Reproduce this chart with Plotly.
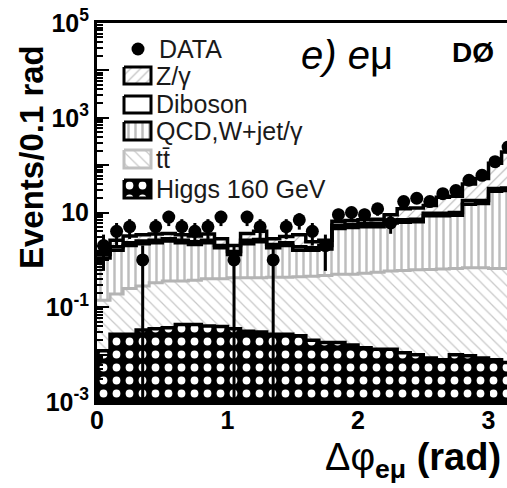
import numpy as np
import plotly.graph_objects as go

# ---------------- data ----------------
bin_edges = [0.0, 0.1, 0.2, 0.3, 0.4, 0.5, 0.6, 0.7, 0.8, 0.9, 1.0, 1.1, 1.2, 1.3, 1.4, 1.5,
             1.6, 1.7, 1.8, 1.9, 2.0, 2.1, 2.2, 2.3, 2.4, 2.5, 2.6, 2.7, 2.8, 2.9, 3.0, 3.1, 3.2]
bin_centers = [0.05, 0.15, 0.25, 0.35, 0.45, 0.55, 0.65, 0.75, 0.85, 0.95, 1.05, 1.15, 1.25, 1.35,
               1.45, 1.55, 1.65, 1.75, 1.85, 1.95, 2.05, 2.15, 2.25, 2.35, 2.45, 2.55, 2.65, 2.75,
               2.85, 2.95, 3.05, 3.15]

data_events = [2, 4, 5, 1, 5, 8, 5, 4, 5, 8, 1, 8, 5, 1, 5, 7, 4, 2, 9, 10, 9, 12, 6, 17,
               20, 17, 25, 29, 48, 61, 118, 240]

ttbar = [0.14, 0.19, 0.25, 0.28, 0.33, 0.36, 0.36, 0.37, 0.40, 0.40, 0.42, 0.42, 0.42, 0.43,
         0.43, 0.44, 0.45, 0.47, 0.50, 0.50, 0.52, 0.55, 0.58, 0.60, 0.62, 0.63, 0.64, 0.66,
         0.68, 0.68, 0.66, 0.66]
qcd_wjet = [0.96, 1.41, 1.75, 1.92, 1.97, 2.14, 1.94, 1.73, 1.90, 1.40, 0.88, 1.78, 1.98, 1.37,
            1.57, 1.16, 1.15, 1.23, 4.10, 4.30, 4.48, 4.45, 5.42, 5.60, 5.78, 7.87, 7.86, 8.14,
            14.3, 14.8, 27.3, 28.3]
diboson = [0.2, 0.3, 0.3, 0.3, 0.3, 0.3, 0.3, 0.3, 0.3, 0.2, 0.2, 0.4, 0.3, 0.3, 0.3, 0.3,
           0.2, 0.3, 0.8, 0.8, 0.8, 0.9, 0.9, 0.8, 0.8, 1.2, 1.2, 1.2, 3.0, 2.5, 4.0, 4.0]
zgamma = [0.2, 0.7, 0.9, 0.9, 0.9, 0.8, 0.8, 0.8, 0.9, 0.8, 0.5, 1.0, 1.3, 0.7, 0.8, 1.5,
          0.6, 0.6, 1.1, 1.2, 1.2, 1.3, 2.1, 5.0, 5.3, 4.3, 11.3, 12.0, 22.0, 34.0, 78.0, 157.0]
higgs160 = [0.012, 0.027, 0.027, 0.033, 0.035, 0.037, 0.043, 0.043, 0.040, 0.039, 0.035, 0.031,
            0.030, 0.027, 0.027, 0.025, 0.020, 0.018, 0.018, 0.016, 0.014, 0.013, 0.013, 0.011,
            0.010, 0.0085, 0.0078, 0.010, 0.0095, 0.0085, 0.0078, 0.0068]

y_tick_vals = [1e5, 1e4, 1e3, 1e2, 10, 1, 0.1, 0.01, 0.001]
y_tick_text = ["<b>10<sup>5</sup></b>", " ", "<b>10<sup>3</sup></b>", " ", "<b>10</b>", " ",
               "<b>10<sup>-1</sup></b>", " ", "<b>10<sup>-3</sup></b>"]
x_tick_vals = [0, 1, 2, 3]
x_tick_text = ["<b>0</b>", "<b>1</b>", "<b>2</b>", "<b>3</b>"]

legend_labels = ["DATA", "Z/γ", "Diboson", "QCD,W+jet/γ", "tt\u0304", "Higgs 160 GeV"]

# ---------------- derived stack levels ----------------
c_tt = np.array(ttbar)
c_qcd = c_tt + np.array(qcd_wjet)
c_dib = c_qcd + np.array(diboson)
c_tot = c_dib + np.array(zgamma)

FONT = "Liberation Sans"

# plot-area pixel geometry
L, R, T, B = 97, 507, 23, 402
W, H = 507, 488


def px2paper(px, py):
    return (px - L) / (R - L), (B - py) / (B - T)


pat_z = dict(shape="/", fgcolor="#b4b4b4", bgcolor="white", size=7, solidity=0.15, fgopacity=1)
pat_q = dict(shape="|", fgcolor="#bdbdbd", bgcolor="white", size=7, solidity=0.35, fgopacity=1)
pat_t = dict(shape="\\", fgcolor="#c8c8c8", bgcolor="white", size=8, solidity=0.15, fgopacity=1)
pat_h = dict(shape=".", fgcolor="white", bgcolor="black", size=13, solidity=0.28, fgopacity=1)

fig = go.Figure()


def add_bar(vals, pattern):
    fig.add_trace(go.Bar(x=bin_centers, y=vals, width=0.1,
                         marker=dict(color="white", line=dict(width=0), pattern=pattern),
                         hoverinfo="skip", showlegend=False))


add_bar(c_tot, pat_z)
add_bar(c_dib, dict(shape="", fgcolor="white", bgcolor="white"))
add_bar(c_qcd, pat_q)
add_bar(c_tt, pat_t)
add_bar(higgs160, pat_h)


def add_step(vals, color, width=3.5):
    yv = list(vals) + [vals[-1]]
    fig.add_trace(go.Scatter(x=bin_edges, y=yv, mode="lines", line_shape="hv",
                             line=dict(color=color, width=width),
                             hoverinfo="skip", showlegend=False))


add_step(c_tt, "#b4b4b4", 3)
add_step(c_qcd, "black")
add_step(c_dib, "black")
add_step(c_tot, "black")
add_step(higgs160, "black")

fig.add_trace(go.Scatter(x=bin_centers, y=data_events, mode="markers",
                         marker=dict(color="black", size=13),
                         error_y=dict(type="data", array=np.sqrt(data_events), color="black",
                                      thickness=3, width=0),
                         hoverinfo="skip", showlegend=False))

# ---------------- legend (pixel coordinates on hidden overlay axes) ----------------
legend_boxes = [
    (67, 84, dict(line=dict(color="black", width=3), fillpattern=pat_z)),
    (96, 113, dict(line=dict(color="black", width=3), fillcolor="white")),
    (122, 140, dict(line=dict(color="black", width=3), fillpattern=pat_q)),
    (150, 168, dict(line=dict(color="#c0c0c0", width=3), fillpattern=pat_t)),
    (180, 198, dict(line=dict(color="black", width=3), fillpattern=pat_h)),
]
for y0, y1, st in legend_boxes:
    fig.add_trace(go.Scatter(x=[124, 151, 151, 124, 124], y=[y0, y0, y1, y1, y0],
                             mode="lines", fill="toself", xaxis="x2", yaxis="y2",
                             hoverinfo="skip", showlegend=False, **st))
fig.add_trace(go.Scatter(x=[138], y=[49], mode="markers", marker=dict(color="black", size=13),
                         xaxis="x2", yaxis="y2", hoverinfo="skip", showlegend=False))

annotations = []
legend_text_y = [49, 76, 104, 131, 159, 189]
legend_text_x = [157, 154, 154, 154, 154, 154]
for lab, tx, ty in zip(legend_labels, legend_text_x, legend_text_y):
    annotations.append(dict(x=tx, y=ty, xref="x2", yref="y2", text=lab, showarrow=False,
                            xanchor="left", yanchor="middle",
                            font=dict(family=FONT, size=25, color="#1a1a1a")))

annotations.append(dict(x=299, y=55, xref="x2", yref="y2", text="<i>e) e</i>μ", showarrow=False,
                        xanchor="left", yanchor="middle",
                        font=dict(family=FONT, size=40, color="black")))
annotations.append(dict(x=473, y=52, xref="x2", yref="y2", text="<b>DØ</b>", showarrow=False,
                        xanchor="center", yanchor="middle",
                        font=dict(family=FONT, size=28, color="black")))

px, py = px2paper(31, 157)
annotations.append(dict(x=px, y=py, xref="paper", yref="paper", text="<b>Events/0.1 rad</b>",
                        textangle=-90, showarrow=False, xanchor="center", yanchor="middle",
                        font=dict(family=FONT, size=33, color="black")))
px, py = px2paper(323, 460)
annotations.append(dict(x=px, y=py, xref="paper", yref="paper",
                        text="Δφ<sub><b>eμ</b></sub> <b>(rad)</b>",
                        showarrow=False, xanchor="left", yanchor="middle",
                        font=dict(family=FONT, size=38, color="black")))

minor_y = [m * 10.0 ** k for k in range(-3, 5) for m in range(2, 10)]

fig.update_layout(
    width=W, height=H,
    margin=dict(l=L, r=W - R, t=T, b=H - B),
    plot_bgcolor="white", paper_bgcolor="white",
    barmode="overlay", bargap=0, showlegend=False,
    font=dict(family=FONT, color="black"),
    annotations=annotations,
    xaxis=dict(range=[0, np.pi], showline=True, linewidth=3, linecolor="black", mirror=True,
               ticks="inside", ticklen=10, tickwidth=2, tickcolor="black",
               tickvals=x_tick_vals, ticktext=x_tick_text, ticklabelstandoff=-6,
               tickfont=dict(family=FONT, size=25, color="black"),
               minor=dict(tickmode="linear", tick0=0, dtick=0.2, ticks="inside", ticklen=5,
                          tickwidth=1.5, tickcolor="black"),
               showgrid=False, zeroline=False),
    yaxis=dict(type="log", range=[-3, 5], showline=True, linewidth=3, linecolor="black",
               ticks="inside", ticklen=12, tickwidth=2, tickcolor="black",
               tickvals=y_tick_vals, ticktext=y_tick_text,
               tickfont=dict(family=FONT, size=25, color="black"),
               minor=dict(tickmode="array", tickvals=minor_y, ticks="inside", ticklen=6,
                          tickwidth=1.5, tickcolor="black"),
               showgrid=False, zeroline=False),
    xaxis2=dict(overlaying="x", range=[L, R], visible=False, anchor="y2"),
    yaxis2=dict(overlaying="y", range=[B, T], visible=False, anchor="x2"),
)

fig.write_html("out.html")
